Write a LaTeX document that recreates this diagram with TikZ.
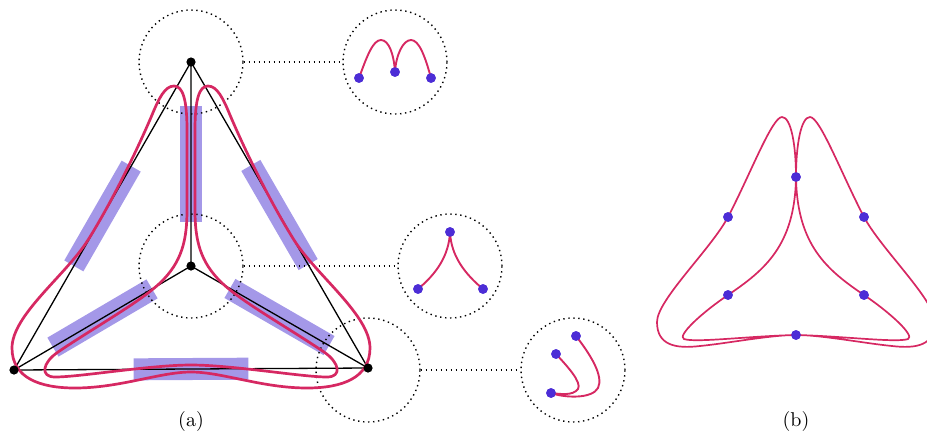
\documentclass[tikz,border=0pt]{standalone}
\usetikzlibrary{calc}
\definecolor{crim}{RGB}{214,40,98}
\definecolor{dotblue}{RGB}{76,45,214}
\definecolor{bandc}{RGB}{164,152,232}
\begin{document}
\begin{tikzpicture}[x=0.5pt,y=-0.5pt,
  vdot/.style={circle,fill=black,inner sep=0pt,minimum size=4.6pt},
  bdot/.style={circle,fill=dotblue,inner sep=0pt,minimum size=4.8pt},
  zone/.style={circle,draw,line width=0.7pt,dash pattern=on 0.7pt off 1.8pt,minimum size=52pt,inner sep=0pt},
  link/.style={line width=0.7pt,dash pattern=on 0.7pt off 1.8pt},
  band/.style={draw=bandc,line width=11pt},
  gedge/.style={line width=0.65pt},
  curveA/.style={draw=crim,line width=1.35pt},
  curveI/.style={draw=crim,line width=0.95pt},
  curveB/.style={draw=crim,line width=0.85pt},
  lab/.style={inner sep=0pt}]
\useasboundingbox (0,0) rectangle (927,435);
\clip (0,0) rectangle (927,435);

% ---------- (a) ----------
\coordinate (T) at (191,62);
\coordinate (L) at (14,370);
\coordinate (R) at (368,368);
\coordinate (C) at (191,266);

% bands
\draw[band] ($(T)!0.218!(C)$) -- ($(T)!0.782!(C)$);
\draw[band] ($(T)!0.338!(L)$) -- ($(T)!0.662!(L)$);
\draw[band] ($(T)!0.338!(R)$) -- ($(T)!0.662!(R)$);
\draw[band] ($(L)!0.338!(R)$) -- ($(L)!0.662!(R)$);
\draw[band] ($(C)!0.22!(L)$) -- ($(C)!0.78!(L)$);
\draw[band] ($(C)!0.22!(R)$) -- ($(C)!0.78!(R)$);

% edges
\draw[gedge] (T) -- (L) -- (R) -- cycle;
\draw[gedge] (T) -- (C) (C) -- (L) (C) -- (R);

% zones and insets
\node[zone] (c1) at (191,62) {};
\node[zone] (c2) at (191,266) {};
\node[zone] (c3) at (368,370) {};
\node[zone] (i1) at (395,62) {};
\node[zone] (i2) at (450,266) {};
\node[zone] (i3) at (573,370) {};
\draw[link] (c1.east) -- (i1.west);
\draw[link] (c2.east) -- (i2.west);
\draw[link] (c3.east) -- (i3.west);

% red curve (a)
\draw[curveA] (174,86)
  .. controls (165,86) and (159,98) .. (152,115)
  .. controls (135,155) and (110,205) .. (88,240)
  .. controls (66,275) and (12,315) .. (12,348)
  .. controls (12,378) and (40,388) .. (75,388)
  .. controls (120,388) and (160,372) .. (191,372)
  .. controls (222,372) and (262,388) .. (307,388)
  .. controls (342,388) and (370,378) .. (370,348)
  .. controls (370,315) and (316,275) .. (294,240)
  .. controls (272,205) and (247,155) .. (230,115)
  .. controls (223,98) and (217,86) .. (208,86)
  .. controls (199,86) and (195,100) .. (195,130)
  -- (195,210)
  .. controls (195,240) and (200,262) .. (222,283)
  .. controls (242,302) and (287,327) .. (324,352)
  .. controls (340,363) and (342,377) .. (327,377)
  .. controls (302,377) and (232,365) .. (191,365)
  .. controls (150,365) and (80,377) .. (55,377)
  .. controls (40,377) and (42,363) .. (58,352)
  .. controls (95,327) and (140,302) .. (160,283)
  .. controls (182,262) and (187,240) .. (187,210)
  -- (187,130)
  .. controls (187,100) and (183,86) .. (174,86) -- cycle;

% vertex dots
\node[vdot] (vT) at (T) {};
\node[vdot] (vL) at (L) {};
\node[vdot] (vR) at (R) {};
\node[vdot] (vC) at (C) {};

% inset 1
\node[bdot] (a1) at (359,78) {};
\node[bdot] (a2) at (395,72) {};
\node[bdot] (a3) at (431,78) {};
\draw[curveI] (a1.center) .. controls (367,56) and (373,40) .. (381,40)
  .. controls (389,40) and (394,55) .. (a2.center)
  .. controls (396,55) and (403,40) .. (411,40)
  .. controls (419,40) and (425,56) .. (a3.center);
\node[bdot] at (a1) {};
\node[bdot] at (a2) {};
\node[bdot] at (a3) {};

% inset 2
\node[bdot] (b1) at (450,232) {};
\node[bdot] (b2) at (418,289) {};
\node[bdot] (b3) at (483,289) {};
\draw[curveI] (b1.center) .. controls (449,256) and (436,274) .. (b2.center);
\draw[curveI] (b1.center) .. controls (451,256) and (465,274) .. (b3.center);
\node[bdot] at (b1) {};
\node[bdot] at (b2) {};
\node[bdot] at (b3) {};

% inset 3
\node[bdot] (d1) at (556,354) {};
\node[bdot] (d2) at (576,336) {};
\node[bdot] (d3) at (551,393) {};
\draw[curveI] (d1.center) .. controls (567,366) and (582,382) .. (578,389)
  .. controls (573,396) and (560,394) .. (d3.center);
\draw[curveI] (d2.center) .. controls (590,354) and (604,376) .. (598,388)
  .. controls (592,399) and (565,398) .. (d3.center);
\node[bdot] at (d1) {};
\node[bdot] at (d2) {};
\node[bdot] at (d3) {};

\node[lab] (la) at (191,421) {(a)};

% ---------- (b) ----------
\node[bdot] (pT) at (796,177) {};
\node[bdot] (pUL) at (728,217) {};
\node[bdot] (pUR) at (864,217) {};
\node[bdot] (pLL) at (728,295) {};
\node[bdot] (pLR) at (864,295) {};
\node[bdot] (pB) at (796,335) {};
\draw[curveB] (782,117)
  .. controls (772,117) and (750,175) .. (pUL.center)
  .. controls (711,249) and (657,300) .. (657,322)
  .. controls (657,345) and (675,349) .. (700,346)
  .. controls (730,343) and (770,335) .. (pB.center)
  .. controls (822,335) and (862,343) .. (892,346)
  .. controls (917,349) and (935,345) .. (935,322)
  .. controls (935,300) and (881,249) .. (pUR.center)
  .. controls (842,175) and (820,117) .. (810,117)
  .. controls (801,117) and (796,145) .. (pT.center)
  .. controls (797,245) and (827,270) .. (pLR.center)
  .. controls (892,314) and (915,336) .. (908,339)
  .. controls (897,343) and (842,336) .. (pB.center)
  .. controls (750,336) and (695,343) .. (684,339)
  .. controls (677,336) and (700,314) .. (pLL.center)
  .. controls (765,270) and (795,245) .. (pT.center)
  .. controls (796,145) and (791,117) .. (782,117) -- cycle;
\node[bdot] at (pT) {};
\node[bdot] at (pUL) {};
\node[bdot] at (pUR) {};
\node[bdot] at (pLL) {};
\node[bdot] at (pLR) {};
\node[bdot] at (pB) {};

\node[lab] (lb) at (796,421) {(b)};
\end{tikzpicture}
\end{document}
